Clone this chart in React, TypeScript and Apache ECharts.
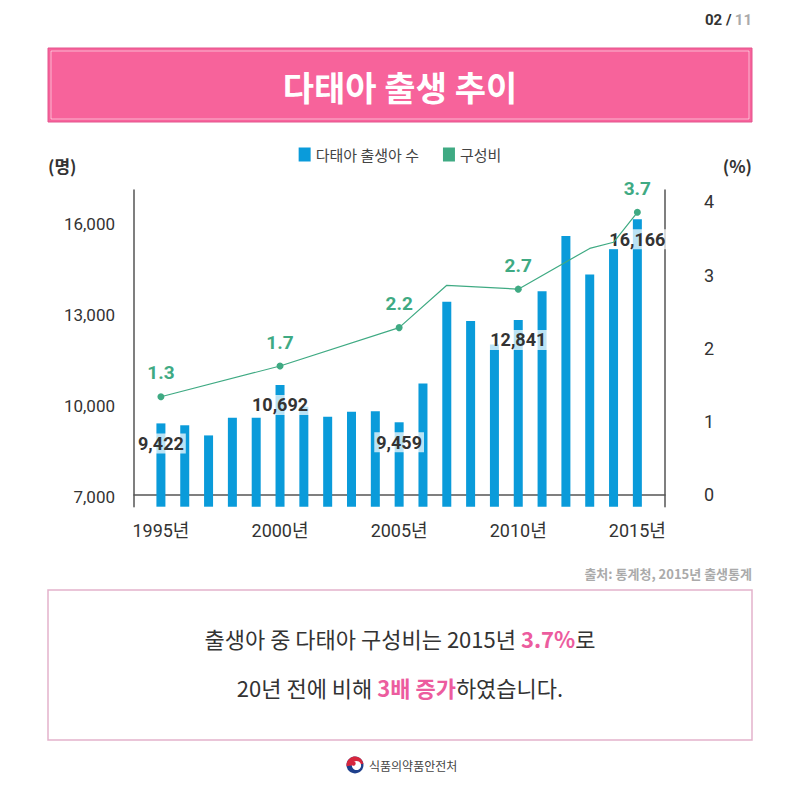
import React, { useEffect, useRef } from "react";
import * as echarts from "echarts";

const years = [1995, 1996, 1997, 1998, 1999, 2000, 2001, 2002, 2003, 2004, 2005, 2006, 2007, 2008, 2009, 2010, 2011, 2012, 2013, 2014, 2015];
const births = [9422, 9360, 9025, 9610, 9610, 10692, 9973, 9642, 9808, 9827, 9459, 10743, 13442, 12801, 12031, 12841, 13792, 15610, 14344, 15180, 16166];
const labeledYears = [1995, 2000, 2005, 2010, 2015];
const ratioYears = [1995, 2000, 2005, 2007, 2010, 2013, 2014, 2015];
const ratios = [1.3, 1.7, 2.2, 2.75, 2.7, 3.23, 3.31, 3.7];
const xTickYears = [1995, 2000, 2005, 2010, 2015];
const leftTicks = [7000, 10000, 13000, 16000];
const rightTicks = [0, 1, 2, 3, 4];

const NARROW = "Roboto, 'Noto Sans CJK KR', sans-serif";
const KR = "'Noto Sans CJK KR', 'Noto Sans', sans-serif";
const BLUE = "#0A9BDA";
const GREEN = "#3FAA83";
const PINK = "#F7639B";

export default function App() {
  const ref = useRef<HTMLDivElement>(null);
  useEffect(() => {
    if (!ref.current) return;
    const chart = echarts.init(ref.current, undefined, { renderer: "svg" });
    const barData = years.map((y, i) => {
      const show = labeledYears.includes(y);
      return {
        value: [y, births[i]],
        label: { show },
      };
    });
    const lineData = ratioYears.map((y, i) => {
      const show = labeledYears.includes(y);
      return {
        value: [y, ratios[i]],
        symbol: show ? "circle" : "none",
        label: { show },
      };
    });
    chart.setOption({
      animation: false,
      backgroundColor: "#ffffff",
      legend: {
        top: 142,
        left: "center",
        itemWidth: 12,
        itemHeight: 14,
        itemGap: 24,
        textStyle: { fontSize: 15, color: "#444", fontFamily: KR },
        data: [
          { name: "다태아 출생아 수", icon: "rect" },
          { name: "구성비", icon: "rect" },
        ],
      },
      grid: { left: 134, right: 135, top: 190, bottom: 281.3 },
      xAxis: {
        type: "value",
        min: 1993.87,
        max: 2016.16,
        axisLine: { show: true, lineStyle: { color: "#555", width: 1.5 } },
        axisTick: { show: false },
        splitLine: { show: false },
        axisLabel: {
          customValues: xTickYears,
          formatter: (v: number) => v + "년",
          fontSize: 18,
          color: "#333",
          margin: 15,
          fontFamily: NARROW,
        },
      },
      yAxis: [
        {
          type: "value",
          position: "left",
          min: 6670,
          max: 17133,
          axisLine: { show: true, lineStyle: { color: "#555", width: 1.5 } },
          axisTick: { show: false },
          splitLine: { show: false },
          axisLabel: {
            customValues: leftTicks,
            formatter: (v: number) => v.toLocaleString("en-US"),
            fontSize: 17,
            color: "#333",
            margin: 19,
            fontFamily: NARROW,
          },
        },
        {
          type: "value",
          position: "right",
          min: -0.16,
          max: 4.16,
          axisLine: { show: true, lineStyle: { color: "#555", width: 1.5 } },
          axisTick: { show: false },
          splitLine: { show: false },
          axisLabel: {
            customValues: rightTicks,
            formatter: (v: number) => String(v),
            fontSize: 18,
            color: "#333",
            margin: 39,
            fontFamily: NARROW,
          },
        },
        {
          type: "value",
          position: "right",
          show: false,
          min: -0.13,
          max: 3.99,
          splitLine: { show: false },
        },
      ],
      series: [
        {
          name: "다태아 출생아 수",
          type: "bar",
          yAxisIndex: 0,
          barWidth: 9,
          itemStyle: { color: BLUE },
          data: barData,
          label: {
            show: false,
            position: "insideTop",
            distance: 10,
            formatter: (p: any) => Number(p.value[1]).toLocaleString("en-US"),
            fontSize: 18,
            fontWeight: "bold",
            color: "#333",
            fontFamily: NARROW,
            backgroundColor: "rgba(255,255,255,0.72)",
            padding: [1, 2],
          },
          z: 2,
        },
        {
          name: "구성비",
          type: "line",
          yAxisIndex: 2,
          symbol: "circle",
          symbolSize: 7,
          showAllSymbol: true,
          itemStyle: { color: GREEN },
          lineStyle: { color: GREEN, width: 1.2 },
          data: lineData,
          label: {
            show: false,
            position: "top",
            distance: 11,
            formatter: (p: any) => Number(p.value[1]).toFixed(1),
            fontSize: 19,
            fontWeight: "bold",
            color: GREEN,
            fontFamily: NARROW,
          },
          z: 3,
        },
      ],
      graphic: [
        {
          type: "text",
          x: 752,
          y: 20,
          style: {
            text: "{a|02 /} {b|11}",
            align: "right",
            verticalAlign: "middle",
            rich: {
              a: { fontSize: 15, fontWeight: "bold", fill: "#333", fontFamily: NARROW },
              b: { fontSize: 15, fontWeight: "bold", fill: "#aaa", fontFamily: NARROW },
            },
          },
        },
        {
          type: "rect",
          shape: { x: 48, y: 48, width: 704, height: 74 },
          style: { fill: PINK, stroke: "#E4548E", lineWidth: 1 },
        },
        {
          type: "rect",
          shape: { x: 51, y: 51, width: 698, height: 68 },
          style: { fill: "none", stroke: "rgba(255,255,255,0.55)", lineWidth: 1 },
        },
        {
          type: "text",
          x: 400,
          y: 86,
          style: {
            text: "다태아 출생 추이",
            align: "center",
            verticalAlign: "middle",
            fontSize: 34,
            fontWeight: "bold",
            fill: "#ffffff",
            fontFamily: KR,
          },
        },
        {
          type: "text",
          x: 48,
          y: 165,
          style: {
            text: "(명)",
            align: "left",
            verticalAlign: "middle",
            fontSize: 17,
            fontWeight: "bold",
            fill: "#333",
            fontFamily: KR,
          },
        },
        {
          type: "text",
          x: 752,
          y: 165,
          style: {
            text: "(%)",
            align: "right",
            verticalAlign: "middle",
            fontSize: 17,
            fontWeight: "bold",
            fill: "#333",
            fontFamily: KR,
          },
        },
        {
          type: "text",
          x: 752,
          y: 573,
          style: {
            text: "출처: 통계청, 2015년 출생통계",
            align: "right",
            verticalAlign: "middle",
            fontSize: 13,
            fontWeight: "bold",
            fill: "#aaa",
            fontFamily: KR,
          },
        },
        {
          type: "rect",
          shape: { x: 48, y: 590, width: 704, height: 150 },
          style: { fill: "none", stroke: "#E3B2CB", lineWidth: 1.5 },
        },
        {
          type: "text",
          x: 400,
          y: 638,
          style: {
            text: "{n|출생아 중 다태아 구성비는 2015년 }{p|3.7%}{n|로}",
            align: "center",
            verticalAlign: "middle",
            rich: {
              n: { fontSize: 22, fill: "#333", fontFamily: KR },
              p: { fontSize: 22, fill: "#EC5C9E", fontWeight: "bold", fontFamily: KR },
            },
          },
        },
        {
          type: "text",
          x: 400,
          y: 687,
          style: {
            text: "{n|20년 전에 비해 }{p|3배 증가}{n|하였습니다.}",
            align: "center",
            verticalAlign: "middle",
            rich: {
              n: { fontSize: 22, fill: "#333", fontFamily: KR },
              p: { fontSize: 22, fill: "#EC5C9E", fontWeight: "bold", fontFamily: KR },
            },
          },
        },
        {
          type: "circle",
          shape: { cx: 355, cy: 765, r: 8.5 },
          style: { fill: "#1E3F8C" },
        },
        {
          type: "sector",
          shape: { cx: 355, cy: 765, r: 8.5, r0: 0, startAngle: -Math.PI * 1.05, endAngle: -Math.PI * 0.05 },
          style: { fill: "#D7263D" },
        },
        {
          type: "circle",
          shape: { cx: 356.5, cy: 765.5, r: 4.6 },
          style: { fill: "#ffffff" },
        },
        {
          type: "circle",
          shape: { cx: 353.5, cy: 763.5, r: 2.2 },
          style: { fill: "#D7263D" },
        },
        {
          type: "text",
          x: 369,
          y: 765,
          style: {
            text: "식품의약품안전처",
            align: "left",
            verticalAlign: "middle",
            fontSize: 12,
            fill: "#444",
            fontFamily: KR,
          },
        },
      ],
    });
    return () => chart.dispose();
  }, []);
  return (
    <div
      ref={ref}
      style={{ position: "fixed", left: 0, top: 0, width: 800, height: 788, background: "#fff" }}
    />
  );
}
